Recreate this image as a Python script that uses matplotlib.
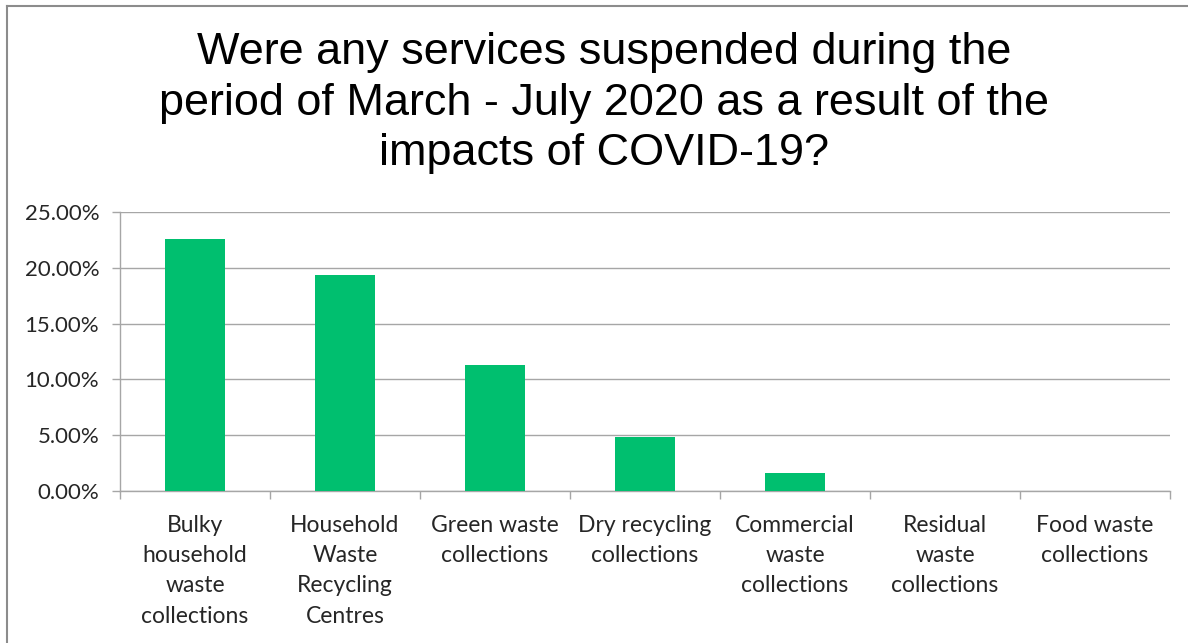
import matplotlib.pyplot as plt
from matplotlib.lines import Line2D
from matplotlib.ticker import FuncFormatter, MultipleLocator

# survey results: share of councils that suspended each service
services = [
    'Bulky\nhousehold\nwaste\ncollections',
    'Household\nWaste\nRecycling\nCentres',
    'Green waste\ncollections',
    'Dry recycling\ncollections',
    'Commercial\nwaste\ncollections',
    'Residual\nwaste\ncollections',
    'Food waste\ncollections',
]
pct_suspended = [22.58, 19.35, 11.29, 4.84, 1.61, 0.0, 0.0]

title = ('Were any services suspended during the\n'
         'period of March - July 2020 as a result of the\n'
         'impacts of COVID-19?')

bar_color = '#00BF6F'
grid_color = '#A6A6A6'
tick_font = ['Lato', 'DejaVu Sans']

fig = plt.figure(figsize=(11.88, 6.43), dpi=100)
ax = fig.add_axes([120 / 1188, 1 - 491 / 643, 1050 / 1188, 279 / 643])

x = range(len(services))
ax.bar(x, pct_suspended, width=0.4, color=bar_color, zorder=3)

ax.set_xlim(-0.5, len(services) - 0.5)
ax.set_ylim(0, 25)
ax.yaxis.set_major_locator(MultipleLocator(5))
ax.yaxis.set_major_formatter(FuncFormatter(lambda v, _: f'{v:.2f}%'))
ax.grid(axis='y', color=grid_color, linewidth=1, zorder=0)

ax.set_xticks([i - 0.5 for i in range(len(services) + 1)])
ax.set_xticklabels([])
ax.set_xticks(list(x), minor=True)
ax.set_xticklabels(services, minor=True, fontsize=16.5, family=tick_font,
                   color='#262626', linespacing=1.55, va='top')
ax.tick_params(axis='x', which='major', length=6, color=grid_color, width=1)
ax.tick_params(axis='x', which='minor', length=0, pad=17)
ax.tick_params(axis='y', length=6, color=grid_color, width=1, pad=9,
               labelsize=16, labelcolor='#262626')
for lbl in ax.get_yticklabels():
    lbl.set_family(tick_font)

for side in ['top', 'right']:
    ax.spines[side].set_visible(False)
for side in ['left', 'bottom']:
    ax.spines[side].set_color(grid_color)
    ax.spines[side].set_linewidth(1)

fig.text(604 / 1188, 1 - 103 / 643, title, ha='center', va='center',
         fontsize=32.4, family='Liberation Sans', linespacing=1.3, color='black')

# left and top border of the chart frame
fig.add_artist(Line2D([7 / 1188, 7 / 1188], [0, 1 - 6 / 643],
                      transform=fig.transFigure, color='#8C8C8C', linewidth=1.5))
fig.add_artist(Line2D([7 / 1188, 1], [1 - 6 / 643, 1 - 6 / 643],
                      transform=fig.transFigure, color='#8C8C8C', linewidth=1.5))

fig.savefig('out.png', dpi=100, facecolor='white')
